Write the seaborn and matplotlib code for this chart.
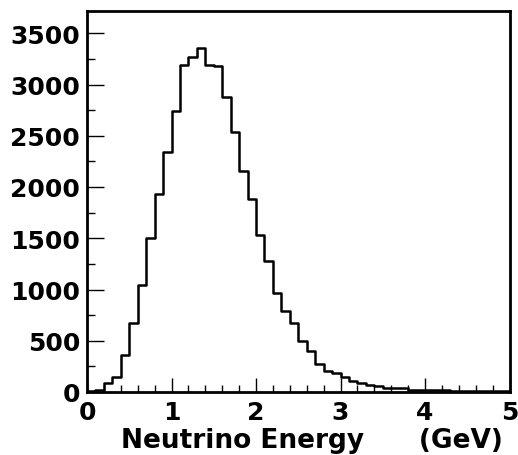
import numpy as np
import pandas as pd
import matplotlib
matplotlib.use('Agg')
import matplotlib.pyplot as plt
from matplotlib.ticker import MultipleLocator
import seaborn as sns

sns.set_style('ticks')
plt.rcParams['font.family'] = ['DejaVu Sans']
plt.rcParams['font.weight'] = 'bold'

# Histogram: 50 bins of 0.1 GeV from 0 to 5
bin_edges = [round(0.1 * i, 2) for i in range(51)]
counts = [5, 18, 88, 143, 362, 671, 1046, 1505, 1929, 2346,
          2740, 3187, 3272, 3353, 3187, 3185, 2874, 2538, 2153, 1887,
          1528, 1280, 961, 792, 671, 502, 397, 277, 209, 189,
          150, 104, 85, 68, 62, 42, 42, 40, 18, 17,
          16, 15, 15, 14, 13, 12, 12, 11, 10, 10]

centers = [(a + b) / 2 for a, b in zip(bin_edges[:-1], bin_edges[1:])]
df = pd.DataFrame({'energy': centers, 'n': counts})

fig = plt.figure(figsize=(5.18, 4.56), dpi=100)
ax = fig.add_axes([87 / 518, 63 / 456, 422.5 / 518, 381.3 / 456])

sns.histplot(data=df, x='energy', weights='n', bins=bin_edges, element='step',
             fill=False, color='black', linewidth=1.8, ax=ax)

ax.set_xlim(0, 5)
ax.set_ylim(0, 3720)
ax.xaxis.set_major_locator(MultipleLocator(1))
ax.xaxis.set_minor_locator(MultipleLocator(0.2))
ax.yaxis.set_major_locator(MultipleLocator(500))
ax.yaxis.set_minor_locator(MultipleLocator(250))

ax.tick_params(axis='both', which='both', direction='in', colors='black', labelsize=18, width=1)
ax.tick_params(axis='x', which='major', length=10, pad=6)
ax.tick_params(axis='x', which='minor', length=5)
ax.tick_params(axis='y', which='major', length=12, pad=5)
ax.tick_params(axis='y', which='minor', length=6)
for lab in ax.get_xticklabels() + ax.get_yticklabels():
    lab.set_fontweight('bold')

for s in ax.spines.values():
    s.set_visible(True)
    s.set_linewidth(2)
    s.set_color('black')

ax.set_ylabel('')
ax.set_xlabel('Neutrino Energy      (GeV)', fontsize=19, fontweight='bold',
              color='black', loc='right')
ax.xaxis.set_label_coords(416 / 422.5, -0.093)

fig.savefig('out.png', dpi=100)
